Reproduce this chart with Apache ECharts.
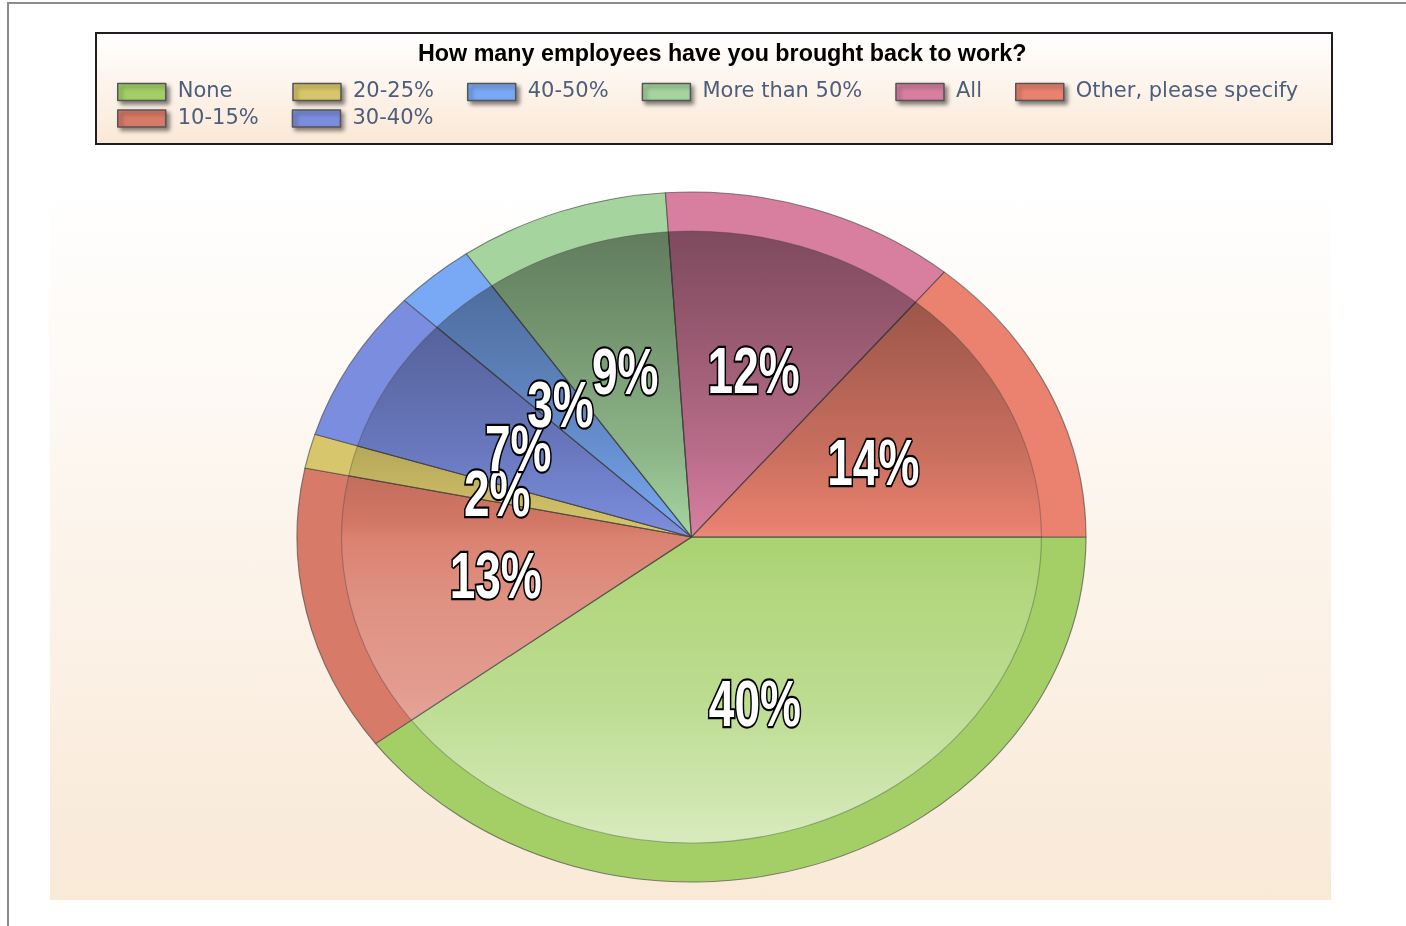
<!DOCTYPE html>
<html>
<head>
<meta charset="utf-8">
<title>How many employees have you brought back to work?</title>
<script src="https://cdn.jsdelivr.net/npm/echarts@6/dist/echarts.min.js"></script>
<style>
    html, body { margin: 0; padding: 0; background: #fff; overflow: hidden; }
    .layer { position: absolute; left: 0; top: 0; width: 1406px; height: 926px; }
    /* the pie is an ellipse in the original, so stretch the slice layer sideways */
    #pie-layer { transform: scaleX(1.1435); transform-origin: 691.5px 0; }
    /* the percent labels are tall and narrow, stretch them upwards */
    #label-layer { transform: scaleY(1.42); transform-origin: 0 537px; }
</style>
</head>
<body>
<div id="pie-layer" class="layer"></div>
<div id="front-layer" class="layer"></div>
<div id="label-layer" class="layer"></div>
<script>
    // data
    var titleText = 'How many employees have you brought back to work?';
    var categories = ['None', '10-15%', '20-25%', '30-40%', '40-50%', 'More than 50%', 'All', 'Other, please specify'];
    var shares = [39.7, 13.4, 1.6, 7.2, 3.3, 8.6, 12.1, 13.9];
    var legendRow1 = ['None', '20-25%', '40-50%', 'More than 50%', 'All', 'Other, please specify'];
    var legendRow2 = ['10-15%', '30-40%'];

    // colours, same order as categories
    var sliceColors = ['#a3cf66', '#d87a68', '#d7c66b', '#7b8ddf', '#79a9f4', '#a5d49f', '#d87fa0', '#eb826f'];

    var CX = 691.5, CY = 537, RY = 345, RX = 394.5;
    var K = RX / RY;     // sideways stretch of the pie layer
    var S = 1.42;        // upward stretch of the label layer

    var pieData = categories.map(function (name, i) {
        return { name: name, value: shares[i] };
    });

    function colorOf(name) {
        return sliceColors[categories.indexOf(name)];
    }

    // x position inside the stretched pie layer
    function ux(x) {
        return CX + (x - CX) / K;
    }

    function basePie(extra) {
        var s = {
            type: 'pie',
            center: [CX, CY],
            radius: [0, RY],
            startAngle: 0,
            clockwise: true,
            silent: true,
            data: pieData,
            label: { show: false },
            labelLine: { show: false },
            emphasis: { disabled: true }
        };
        for (var k in extra) s[k] = extra[k];
        return s;
    }

    // slices
    var pieChart = echarts.init(document.getElementById('pie-layer'), null, { renderer: 'svg' });
    pieChart.setOption({
        animation: false,
        color: sliceColors,
        graphic: [
            {
                type: 'rect',
                silent: true,
                shape: { x: ux(50), y: 185, width: (1331 - 50) / K, height: 715 },
                style: {
                    fill: new echarts.graphic.LinearGradient(0, 0, 0, 1, [
                        { offset: 0, color: '#ffffff' },
                        { offset: 1, color: '#f9e9d7' }
                    ])
                }
            }
        ],
        series: [
            basePie({
                itemStyle: { borderColor: 'rgba(60,60,60,0.6)', borderWidth: 1 }
            }),
            basePie({
                radius: [0, 306],
                itemStyle: {
                    color: new echarts.graphic.LinearGradient(0, 228, 0, 845, [
                        { offset: 0, color: 'rgba(0,0,0,0.42)' },
                        { offset: 0.17, color: 'rgba(0,0,0,0.3)' },
                        { offset: 0.36, color: 'rgba(0,0,0,0.15)' },
                        { offset: 0.47, color: 'rgba(0,0,0,0.03)' },
                        { offset: 0.5, color: 'rgba(255,255,255,0.06)' },
                        { offset: 0.6, color: 'rgba(255,255,255,0.17)' },
                        { offset: 0.76, color: 'rgba(255,255,255,0.27)' },
                        { offset: 1, color: 'rgba(255,255,255,0.58)' }
                    ], true),
                    borderColor: 'rgba(60,60,60,0.35)',
                    borderWidth: 1
                }
            })
        ]
    });

    function legendRow(names, top) {
        var txt = { fontFamily: 'DejaVu Sans', fontSize: 21, color: '#4d5e7c' };
        return {
            left: 117,
            top: top,
            padding: 0,
            orient: 'horizontal',
            icon: 'rect',
            itemWidth: 48,
            itemHeight: 17,
            itemGap: 33,
            selectedMode: false,
            data: names.map(function (n) {
                return { name: n, itemStyle: { color: colorOf(n) } };
            }),
            itemStyle: {
                borderColor: '#555',
                borderWidth: 1.5,
                shadowColor: 'rgba(0,0,0,0.45)',
                shadowBlur: 4,
                shadowOffsetX: 3,
                shadowOffsetY: 3
            },
            formatter: function (name) {
                // "None" sits in a column as wide as "20-25%"
                var label = name === 'None' ? name + '\u00a0\u00a0\u00a0\u00a0' : name;
                return '{t|' + label + '}';
            },
            textStyle: {
                fontFamily: txt.fontFamily,
                fontSize: txt.fontSize,
                color: txt.color,
                rich: {
                    t: { fontFamily: txt.fontFamily, fontSize: txt.fontSize, color: txt.color, padding: [0, 0, 0, 7] }
                }
            }
        };
    }

    // frame, title box, title and legend
    var frontChart = echarts.init(document.getElementById('front-layer'));
    frontChart.setOption({
        animation: false,
        backgroundColor: 'transparent',
        graphic: [
            {
                type: 'line', silent: true,
                shape: { x1: 7, y1: 3, x2: 1406, y2: 3 },
                style: { stroke: '#8c8c8c', lineWidth: 2 }
            },
            {
                type: 'line', silent: true,
                shape: { x1: 8, y1: 3, x2: 8, y2: 926 },
                style: { stroke: '#8c8c8c', lineWidth: 2 }
            },
            {
                type: 'rect', silent: true,
                shape: { x: 96, y: 33, width: 1236, height: 111 },
                style: {
                    stroke: '#1e1e1e',
                    lineWidth: 2,
                    fill: new echarts.graphic.LinearGradient(0, 0, 0, 1, [
                        { offset: 0, color: '#ffffff' },
                        { offset: 1, color: '#fbe8d6' }
                    ])
                }
            }
        ],
        title: {
            text: titleText,
            left: 418,
            top: 43,
            padding: 0,
            textStyle: {
                fontFamily: 'Liberation Sans',
                fontWeight: 'bold',
                fontSize: 23.3,
                color: '#000'
            }
        },
        legend: [legendRow(legendRow1, 81.5), legendRow(legendRow2, 108)],
        series: [
            basePie({ itemStyle: { color: 'transparent', borderWidth: 0 } })
        ]
    });

    // percent labels
    var labelChart = echarts.init(document.getElementById('label-layer'), null, { renderer: 'svg' });
    labelChart.setOption({
        animation: false,
        backgroundColor: 'transparent',
        series: [
            basePie({
                percentPrecision: 0,
                itemStyle: { color: 'transparent', borderWidth: 0 },
                label: {
                    show: true,
                    position: 'inside',
                    formatter: '{d}%',
                    fontFamily: 'Liberation Sans',
                    fontWeight: 'bold',
                    fontSize: 46,
                    color: '#fff',
                    textBorderColor: '#000',
                    textBorderWidth: 3
                },
                // place labels where the stretched slices are
                labelLayout: function (params) {
                    var r = params.labelRect;
                    var mx = r.x + r.width / 2;
                    var my = r.y + r.height / 2;
                    return { x: CX + (mx - CX) * K, y: CY + (my - CY) / S };
                }
            })
        ]
    });
</script>
</body>
</html>
